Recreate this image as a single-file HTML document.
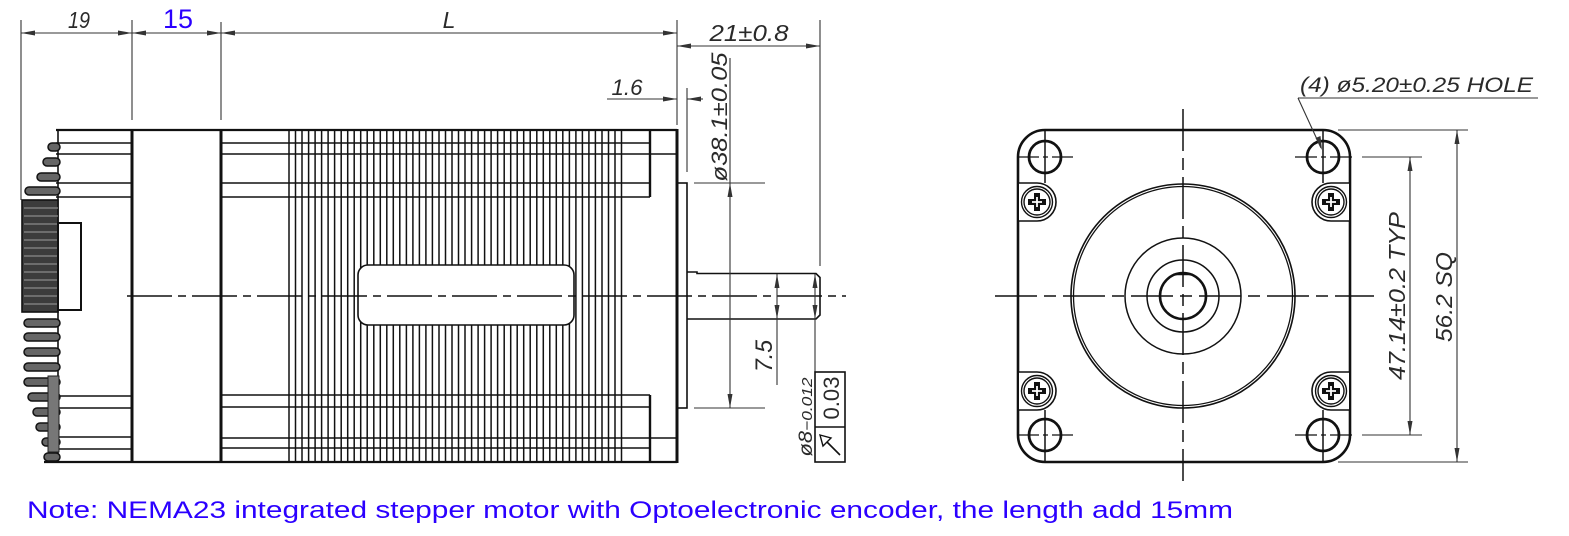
<!DOCTYPE html>
<html><head><meta charset="utf-8"><style>
html,body{margin:0;padding:0;background:#fff;}
svg{display:block;}
.t{font-family:"Liberation Sans",sans-serif;font-style:italic;fill:#2a2a2a;}
</style></head><body>
<svg width="1569" height="536" viewBox="0 0 1569 536" xmlns="http://www.w3.org/2000/svg">
<rect width="1569" height="536" fill="#fff"/>

<!-- ===== LEFT VIEW ===== -->
<path d="M289 130V462M295.5 130V462M302 130V462M308.6 130V462M315.1 130V462M321.6 130V462M328.1 130V462M334.6 130V462M341.2 130V462M347.7 130V462M354.2 130V462M360.7 130V462M367.2 130V462M373.8 130V462M380.3 130V462M386.8 130V462M393.3 130V462M399.8 130V462M406.4 130V462M412.9 130V462M419.4 130V462M425.9 130V462M432.4 130V462M439 130V462M445.5 130V462M452 130V462M458.5 130V462M465 130V462M471.6 130V462M478.1 130V462M484.6 130V462M491.1 130V462M497.6 130V462M504.2 130V462M510.7 130V462M517.2 130V462M523.7 130V462M530.2 130V462M536.8 130V462M543.3 130V462M549.8 130V462M556.3 130V462M562.8 130V462M569.4 130V462M575.9 130V462M582.4 130V462M588.9 130V462M595.4 130V462M602 130V462M608.5 130V462M615 130V462M621.5 130V462" stroke="#111" stroke-width="1.5" fill="none"/>
<rect x="358" y="265" width="216" height="60" rx="10" fill="#fff" stroke="#111" stroke-width="1.6"/>

<g stroke="#111" stroke-width="1.6">
<line x1="56" y1="143" x2="132" y2="143"/><line x1="56" y1="154" x2="132" y2="154"/>
<line x1="56" y1="183" x2="132" y2="183"/><line x1="56" y1="197" x2="132" y2="197"/>
<line x1="56" y1="396" x2="132" y2="396"/><line x1="56" y1="408" x2="132" y2="408"/>
<line x1="56" y1="437" x2="132" y2="437"/><line x1="56" y1="449" x2="132" y2="449"/>
<line x1="221" y1="143" x2="650" y2="143"/><line x1="221" y1="154" x2="677" y2="154"/>
<line x1="221" y1="183" x2="650" y2="183"/><line x1="221" y1="197" x2="650" y2="197"/>
<line x1="221" y1="395" x2="650" y2="395"/><line x1="221" y1="407" x2="650" y2="407"/>
<line x1="221" y1="438" x2="677" y2="438"/><line x1="221" y1="448" x2="650" y2="448"/>
</g>
<g stroke="#111" fill="none">
<line x1="56" y1="130" x2="677" y2="130" stroke-width="2.2"/>
<line x1="44" y1="462" x2="677" y2="462" stroke-width="2.2"/>
<line x1="132" y1="129" x2="132" y2="463" stroke-width="3"/>
<line x1="221" y1="129" x2="221" y2="463" stroke-width="3"/>
<line x1="650" y1="130" x2="650" y2="197" stroke-width="2.4"/>
<line x1="650" y1="395" x2="650" y2="462" stroke-width="2.4"/>
<line x1="677" y1="129" x2="677" y2="463" stroke-width="3"/>
<rect x="677" y="183" width="10" height="225" stroke-width="1.6"/>
<path d="M687 272H697V273.5H816L820 277.5V315L816 319H687" stroke-width="1.6"/>
</g>

<line x1="58" y1="131" x2="58" y2="462" stroke="#111" stroke-width="1.6"/>
<g fill="#666" stroke="#111" stroke-width="1.5">
<rect x="48" y="143" width="12" height="8" rx="4"/>
<rect x="43" y="158" width="17" height="8" rx="4"/>
<rect x="37" y="173" width="23" height="8" rx="4"/>
<rect x="25" y="187" width="35" height="8" rx="4"/>
<rect x="24" y="319" width="36" height="8" rx="4"/>
<rect x="24" y="333" width="36" height="8" rx="4"/>
<rect x="24" y="348" width="36" height="8" rx="4"/>
<rect x="24" y="363" width="36" height="8" rx="4"/>
<rect x="24" y="378" width="36" height="8" rx="4"/>
<rect x="28" y="393" width="32" height="8" rx="4"/>
<rect x="33" y="408" width="27" height="8" rx="4"/>
<rect x="36" y="423" width="24" height="8" rx="4"/>
<rect x="42" y="438" width="18" height="8" rx="4"/>
<rect x="44" y="453" width="16" height="8" rx="4"/>
</g>
<rect x="48" y="376" width="11" height="76" fill="#777" stroke="#222" stroke-width="1"/>
<rect x="22" y="200" width="36" height="112" fill="#3c3c3c" stroke="#111" stroke-width="1.6"/>
<path d="M24 208H58M24 216H58M24 224H58M24 232H58M24 240H58M24 248H58M24 256H58M24 264H58M24 272H58M24 280H58M24 288H58M24 296H58M24 304H58" stroke="#8a8a8a" stroke-width="1.2"/>
<rect x="58" y="223" width="23" height="87" fill="none" stroke="#111" stroke-width="2"/>

<line x1="127" y1="296" x2="846" y2="296" stroke="#111" stroke-width="1.4" stroke-dasharray="45 6 8 6"/>

<g stroke="#333" stroke-width="1.1">
<line x1="21" y1="20" x2="21" y2="200"/>
<line x1="132" y1="20" x2="132" y2="120"/>
<line x1="221" y1="22" x2="221" y2="120"/>
<line x1="677" y1="20" x2="677" y2="125"/>
<line x1="820" y1="20" x2="820" y2="266"/>
<line x1="687" y1="88" x2="687" y2="172"/>
<line x1="694" y1="183" x2="765" y2="183"/>
<line x1="694" y1="408" x2="765" y2="408"/>
</g>
<g stroke="#333" stroke-width="1.1">
<line x1="21" y1="33" x2="677" y2="33"/>
<line x1="677" y1="46" x2="820" y2="46"/>
<line x1="607" y1="99" x2="677" y2="99"/>
<line x1="687" y1="99" x2="703" y2="99"/>
<line x1="730" y1="58" x2="730" y2="408"/>
<line x1="777" y1="274" x2="777" y2="385"/>
<line x1="815" y1="274" x2="815" y2="372"/>
</g>
<g fill="#333">
<polygon points="21,33 35,30.5 35,35.5"/>
<polygon points="132,33 118,30.5 118,35.5"/>
<polygon points="132,33 146,30.5 146,35.5"/>
<polygon points="221,33 207,30.5 207,35.5"/>
<polygon points="221,33 235,30.5 235,35.5"/>
<polygon points="677,33 663,30.5 663,35.5"/>
<polygon points="677,46 691,43.5 691,48.5"/>
<polygon points="820,46 806,43.5 806,48.5"/>
<polygon points="677,99 663,96.5 663,101.5"/>
<polygon points="687,99 701,96.5 701,101.5"/>
<polygon points="730,183 727.5,197 732.5,197"/>
<polygon points="730,408 727.5,394 732.5,394"/>
<polygon points="777,274 774.5,288 779.5,288"/>
<polygon points="777,319 774.5,305 779.5,305"/>
<polygon points="815,274 812.5,288 817.5,288"/>
<polygon points="815,319 812.5,305 817.5,305"/>
</g>
<rect x="815" y="372" width="30" height="90" fill="none" stroke="#111" stroke-width="1.6"/>
<line x1="815" y1="427" x2="845" y2="427" stroke="#111" stroke-width="1.6"/>
<line x1="840" y1="455" x2="825" y2="440" stroke="#111" stroke-width="1.6"/>
<polygon points="820,435 831,438 823,446" fill="#fff" stroke="#111" stroke-width="1.4"/>

<text class="t" x="79" y="28" font-size="23" text-anchor="middle" textLength="22" lengthAdjust="spacingAndGlyphs">19</text>
<text x="178" y="28" font-family="Liberation Sans, sans-serif" font-size="27" fill="#2b00ff" text-anchor="middle" textLength="30" lengthAdjust="spacingAndGlyphs">15</text>
<text class="t" x="449" y="28" font-size="23" text-anchor="middle">L</text>
<text class="t" x="749" y="41" font-size="23" text-anchor="middle" textLength="79" lengthAdjust="spacingAndGlyphs">21±0.8</text>
<text class="t" x="627" y="95" font-size="22" text-anchor="middle" textLength="31" lengthAdjust="spacingAndGlyphs">1.6</text>
<text class="t" font-size="22" text-anchor="middle" transform="translate(727,117) rotate(-90)" textLength="129" lengthAdjust="spacingAndGlyphs">ø38.1±0.05</text>
<text class="t" font-size="24" text-anchor="middle" transform="translate(772,356) rotate(-90)" textLength="32" lengthAdjust="spacingAndGlyphs">7.5</text>
<text font-family="Liberation Sans, sans-serif" fill="#2a2a2a" font-size="22" text-anchor="middle" transform="translate(839,398) rotate(-90)" textLength="43" lengthAdjust="spacingAndGlyphs">0.03</text>
<text class="t" text-anchor="middle" transform="translate(812,417) rotate(-90)" textLength="79" lengthAdjust="spacingAndGlyphs"><tspan font-size="19">ø8</tspan><tspan font-size="15">−0.012</tspan></text>

<!-- ===== RIGHT VIEW ===== -->
<rect x="1018" y="130" width="332" height="332" rx="27" fill="none" stroke="#111" stroke-width="2.6"/>
<g fill="#fff" stroke="#111" stroke-width="1.6">
<path d="M1019 183H1037A19 19 0 0 1 1037 221H1019"/>
<path d="M1019 372H1037A19 19 0 0 1 1037 410H1019"/>
<path d="M1349 183H1331A19 19 0 0 0 1331 221H1349"/>
<path d="M1349 372H1331A19 19 0 0 0 1331 410H1349"/>
</g>
<g fill="none" stroke="#111" stroke-width="1.4">
<circle cx="1037" cy="202" r="15.5"/><circle cx="1037" cy="202" r="13"/>
<circle cx="1037" cy="391" r="15.5"/><circle cx="1037" cy="391" r="13"/>
<circle cx="1331" cy="202" r="15.5"/><circle cx="1331" cy="202" r="13"/>
<circle cx="1331" cy="391" r="15.5"/><circle cx="1331" cy="391" r="13"/>
</g>
<g stroke="#111" stroke-width="6" stroke-linecap="square">
<path d="M1031 202H1043M1037 196V208M1031 391H1043M1037 385V397M1325 202H1337M1331 196V208M1325 391H1337M1331 385V397"/>
</g>
<g stroke="#fff" stroke-width="1.8">
<path d="M1032 202H1042M1037 197V207M1032 391H1042M1037 386V396M1326 202H1336M1331 197V207M1326 391H1336M1331 386V396"/>
</g>
<g stroke="#111" stroke-width="1.5">
<line x1="1045" y1="131" x2="1045" y2="183"/>
<line x1="1045" y1="410" x2="1045" y2="461"/>
<line x1="1323" y1="131" x2="1323" y2="183"/>
<line x1="1323" y1="410" x2="1323" y2="461"/>
</g>
<g stroke="#111" stroke-width="1.2" stroke-dasharray="22 4 5 4">
<line x1="1017" y1="157" x2="1073" y2="157"/>
<line x1="1295" y1="157" x2="1352" y2="157"/>
<line x1="1017" y1="435" x2="1073" y2="435"/>
<line x1="1295" y1="435" x2="1352" y2="435"/>
</g>
<g fill="none" stroke="#111" stroke-width="2.8">
<circle cx="1045" cy="157" r="16"/>
<circle cx="1323" cy="157" r="16"/>
<circle cx="1045" cy="435" r="16"/>
<circle cx="1323" cy="435" r="16"/>
</g>
<g fill="none" stroke="#111">
<circle cx="1183" cy="296" r="112" stroke-width="1.6"/>
<circle cx="1183" cy="296" r="109.5" stroke-width="1.3"/>
<circle cx="1183" cy="296" r="58" stroke-width="1.5"/>
<circle cx="1183" cy="296" r="36" stroke-width="1.5"/>
<circle cx="1183" cy="296" r="23" stroke-width="2.6"/>
<line x1="1173" y1="274.5" x2="1193" y2="274.5" stroke-width="1.5"/>
</g>
<line x1="995" y1="296" x2="1374" y2="296" stroke="#111" stroke-width="1.5" stroke-dasharray="42 7 12 7"/>
<line x1="1183" y1="109" x2="1183" y2="481" stroke="#111" stroke-width="1.5" stroke-dasharray="42 7 12 7"/>

<g stroke="#333" stroke-width="1.1">
<line x1="1362" y1="157" x2="1422" y2="157"/>
<line x1="1362" y1="435" x2="1422" y2="435"/>
<line x1="1338" y1="130" x2="1468" y2="130"/>
<line x1="1338" y1="462" x2="1468" y2="462"/>
<line x1="1410" y1="157" x2="1410" y2="435"/>
<line x1="1457" y1="130" x2="1457" y2="462"/>
<line x1="1298" y1="98" x2="1538" y2="98"/>
<line x1="1298" y1="98" x2="1321" y2="148"/>
</g>
<g fill="#333">
<polygon points="1410,157 1407.5,171 1412.5,171"/>
<polygon points="1410,435 1407.5,421 1412.5,421"/>
<polygon points="1457,130 1454.5,144 1459.5,144"/>
<polygon points="1457,462 1454.5,448 1459.5,448"/>
<polygon points="1322,150 1315.5,138 1320.5,136"/>
</g>
<text class="t" x="1300" y="92" font-size="21" textLength="233" lengthAdjust="spacingAndGlyphs">(4)  ø5.20±0.25  HOLE</text>
<text class="t" font-size="23" text-anchor="middle" transform="translate(1405,296) rotate(-90)" textLength="168" lengthAdjust="spacingAndGlyphs">47.14±0.2  TYP</text>
<text class="t" font-size="23" text-anchor="middle" transform="translate(1452,297) rotate(-90)" textLength="90" lengthAdjust="spacingAndGlyphs">56.2  SQ</text>

<text x="27" y="518" font-family="Liberation Sans, sans-serif" font-size="24" fill="#2b00ff" textLength="1206" lengthAdjust="spacingAndGlyphs">Note: NEMA23 integrated stepper motor with Optoelectronic encoder, the length add 15mm</text>
</svg>
</body></html>
